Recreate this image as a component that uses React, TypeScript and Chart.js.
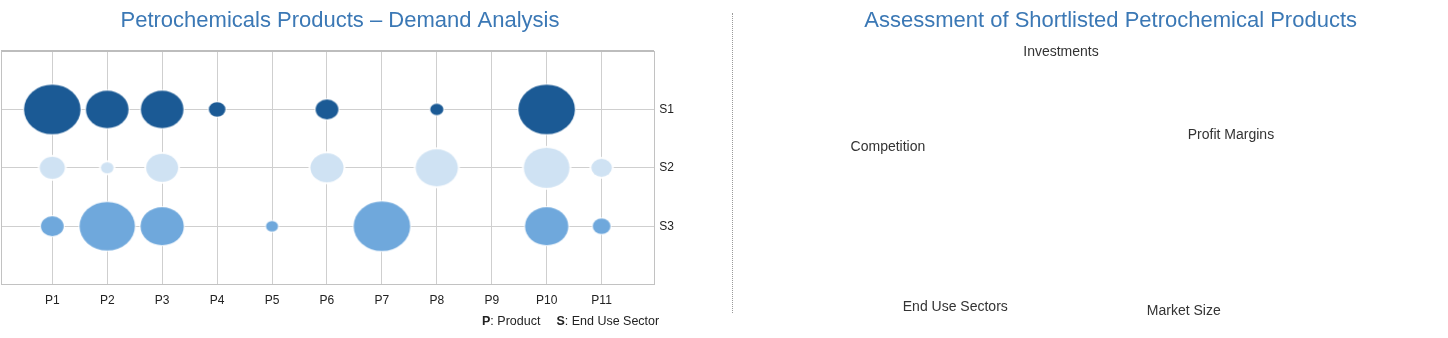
import React, { useEffect, useRef } from 'react';
import { Chart, registerables } from 'chart.js';

Chart.register(...registerables);

// ---------- data ----------
const PRODUCTS = ['P1', 'P2', 'P3', 'P4', 'P5', 'P6', 'P7', 'P8', 'P9', 'P10', 'P11'];
const SECTORS = ['S1', 'S2', 'S3'];
// bubble radius (px) per product, null = no bubble
const S1_SIZES = [24.8, 18.7, 18.7, 7.3, null, 10, null, 5.8, null, 24.8, null];
const S2_SIZES = [11, 5.5, 14, null, null, 14.5, null, 18.5, null, 20, 9];
const S3_SIZES = [10, 24.3, 19, null, 5.3, null, 24.8, null, null, 19, 7.8];
const SECTOR_SIZES = [S1_SIZES, S2_SIZES, S3_SIZES];

const CRITERIA = ['Investments', 'Profit Margins', 'Market Size', 'End Use Sectors', 'Competition'];

const LEFT_TITLE = 'Petrochemicals Products \u2013 Demand Analysis';
const RIGHT_TITLE = 'Assessment of Shortlisted Petrochemical Products';

// ---------- styles ----------
const FONT = '"Liberation Sans", Arial, Helvetica, sans-serif';
const TITLE_COLOR = '#3b78b5';
const TEXT_COLOR = '#222222';
const GRID_COLOR = '#cfcfcf';
const BORDER_COLOR = '#c2c2c2';
const SECTOR_FILLS = ['#1b5a95', '#cfe2f3', '#6fa8dc'];
const SECTOR_RINGS = [1, 2, 1];
const ELLIPSE_RATIO = 1.14;
// radial label placement tuning (style only)
const LABEL_PAD = [-24, -23.7, -11, -66.5, -14.3];
const LABEL_LH = [14, 31.6, 2, 83.6, 2];

function ellipseImage(cache: Map<string, HTMLCanvasElement>, r: number, fill: string, ring: number) {
  const key = `${r}|${fill}|${ring}`;
  const hit = cache.get(key);
  if (hit) return hit;
  const rx = r * ELLIPSE_RATIO;
  const ry = r;
  const c = document.createElement('canvas');
  const w = Math.ceil(2 * (rx + ring) + 2);
  const h = Math.ceil(2 * (ry + ring) + 2);
  c.width = w;
  c.height = h;
  const g = c.getContext('2d')!;
  g.beginPath();
  g.ellipse(w / 2, h / 2, rx + ring, ry + ring, 0, 0, Math.PI * 2);
  g.fillStyle = 'rgba(255,255,255,0.9)';
  g.fill();
  g.beginPath();
  g.ellipse(w / 2, h / 2, rx, ry, 0, 0, Math.PI * 2);
  g.fillStyle = fill;
  g.fill();
  cache.set(key, c);
  return c;
}

function leftConfig(cache: Map<string, HTMLCanvasElement>): any {
  const datasets = SECTORS.map((s, si) => ({
    label: s,
    data: PRODUCTS.map((p, pi) => {
      const r = SECTOR_SIZES[si][pi];
      return r == null ? null : { x: pi + 1, y: SECTORS.length - si, r };
    }).filter((d) => d !== null),
    backgroundColor: SECTOR_FILLS[si],
    borderWidth: 0,
    pointStyle: (ctx: any) => {
      const raw = ctx.raw;
      if (!raw) return 'circle';
      return ellipseImage(cache, raw.r, SECTOR_FILLS[si], SECTOR_RINGS[si]);
    },
  }));
  const tickFont = { family: FONT, size: 12 };
  return {
    type: 'bubble',
    data: { datasets },
    options: {
      responsive: false,
      animation: false,
      layout: { autoPadding: false, padding: { left: 1, right: 11, top: 8, bottom: 22 } },
      plugins: {
        legend: { display: false },
        tooltip: { enabled: false },
        title: {
          display: true,
          text: LEFT_TITLE,
          color: TITLE_COLOR,
          font: { family: FONT, size: 22, weight: 'normal' },
          padding: { top: 0, bottom: 16.6 },
        },
      },
      scales: {
        x: {
          type: 'linear',
          min: 0.066,
          max: 11.96,
          grid: { color: GRID_COLOR, drawTicks: false },
          border: { color: BORDER_COLOR },
          ticks: {
            stepSize: 1,
            includeBounds: false,
            padding: 8.5,
            color: TEXT_COLOR,
            font: tickFont,
            callback: (v: number) => PRODUCTS[v - 1] ?? '',
          },
        },
        y: {
          type: 'linear',
          position: 'right',
          min: 0,
          max: SECTORS.length + 1,
          grid: {
            color: (c: any) => (c.tick && c.tick.value === SECTORS.length + 1 ? '#bdbdbd' : GRID_COLOR),
            lineWidth: (c: any) => (c.tick && c.tick.value === SECTORS.length + 1 ? 2 : 1),
            drawTicks: false,
          },
          border: { color: BORDER_COLOR },
          ticks: {
            stepSize: 1,
            padding: 5,
            color: TEXT_COLOR,
            font: tickFont,
            callback: (v: number) => SECTORS[SECTORS.length - v] ?? '',
          },
        },
        yLeft: {
          type: 'linear',
          position: 'left',
          min: 0,
          max: SECTORS.length + 1,
          grid: { display: false, drawTicks: false },
          ticks: { display: false },
          border: { display: true, color: BORDER_COLOR },
        },
      },
    },
  };
}

function rightConfig(): any {
  return {
    type: 'radar',
    data: {
      labels: CRITERIA,
      datasets: [{ label: 'Assessment', data: [], borderWidth: 0, pointRadius: 0 }],
    },
    options: {
      responsive: false,
      animation: false,
      layout: { autoPadding: false, padding: { left: 25, right: 91, top: 8, bottom: 10 } },
      plugins: {
        legend: { display: false },
        tooltip: { enabled: false },
        title: {
          display: true,
          text: RIGHT_TITLE,
          align: 'end',
          color: TITLE_COLOR,
          font: { family: FONT, size: 22, weight: 'normal' },
          padding: { top: 0, bottom: 0 },
        },
      },
      scales: {
        r: {
          min: 0,
          max: 5,
          grid: { display: false },
          angleLines: { display: false },
          ticks: { display: false },
          pointLabels: {
            display: true,
            color: '#333333',
            font: (ctx: any) => ({ family: FONT, size: 14, lineHeight: `${LABEL_LH[ctx.index]}px` }),
            padding: (ctx: any) => LABEL_PAD[ctx.index],
          },
        },
      },
    },
  };
}

export default function App() {
  const leftRef = useRef<HTMLCanvasElement>(null);
  const rightRef = useRef<HTMLCanvasElement>(null);

  useEffect(() => {
    Chart.defaults.font.family = FONT;
    const cache = new Map<string, HTMLCanvasElement>();
    const left = new Chart(leftRef.current as HTMLCanvasElement, leftConfig(cache));
    const right = new Chart(rightRef.current as HTMLCanvasElement, rightConfig());
    return () => {
      left.destroy();
      right.destroy();
    };
  }, []);

  return (
    <div style={{ position: 'absolute', left: 0, top: 0, width: 1448, height: 338, background: '#fff', overflow: 'hidden' }}>
      <div style={{ position: 'absolute', left: 0, top: 0, width: 690, height: 338 }}>
        <canvas ref={leftRef} width={690} height={338} />
      </div>
      <div
        style={{
          position: 'absolute',
          left: 482,
          top: 314,
          font: `12.5px ${FONT}`,
          color: TEXT_COLOR,
          whiteSpace: 'nowrap',
        }}
      >
        <b>P</b>: Product
        <span style={{ marginLeft: 16 }}>
          <b>S</b>: End Use Sector
        </span>
      </div>
      <div style={{ position: 'absolute', left: 732, top: 13, height: 300, borderLeft: '1px dotted #9a9a9a' }} />
      <div style={{ position: 'absolute', left: 740, top: 0, width: 708, height: 338, overflow: 'hidden' }}>
        <canvas ref={rightRef} width={708} height={360} />
      </div>
    </div>
  );
}
